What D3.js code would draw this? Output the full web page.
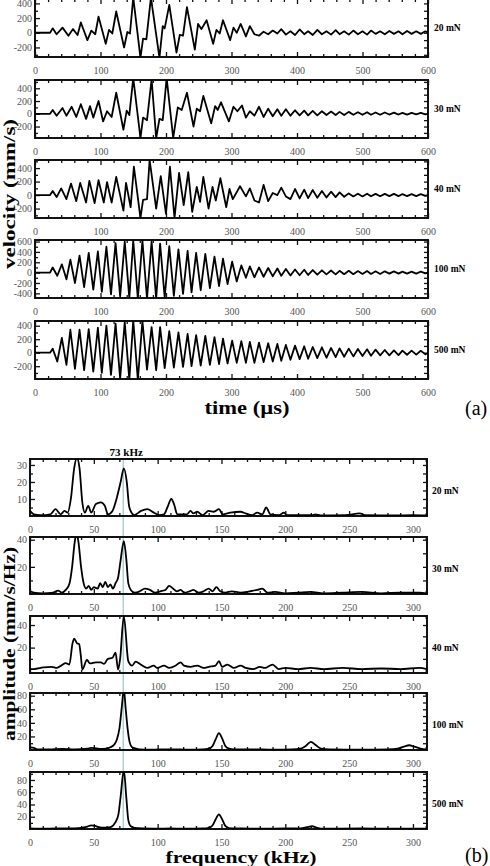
<!DOCTYPE html>
<html>
<head>
<meta charset="utf-8">
<script src="https://cdn.jsdelivr.net/npm/d3@7"></script>
<style>
body { margin: 0; background: #fff; }
svg { display: block; font-family: "Liberation Serif", "Times New Roman", serif; }
</style>
</head>
<body>
<svg id="chart" width="490" height="866"></svg>
<script>
// ---- data ----
var forces = ["20 mN", "30 mN", "40 mN", "100 mN", "500 mN"];

// (a) velocity, time in us
var vel20 = [[0,0],[23,0],[27,60],[33,-20],[42,70],[51,-40],[58,50],[65,-30],[70,140],[80,-100],[86,30],[92,-20],[97,220],[108,-150],[113,40],[118,-10],[124,290],[136,-200],[141,10],[145,-10],[150,480],[161,-340],[165,-80],[170,-90],[177,480],[190,-340],[195,90],[198,60],[205,380],[216,-270],[221,-30],[226,-40],[232,350],[244,-230],[249,120],[254,50],[262,170],[272,-150],[277,40],[282,-10],[287,170],[298,-100],[303,70],[308,0],[314,120]];
var vel30 = [[0,0],[23,0],[27,60],[33,-30],[42,90],[48,-30],[56,110],[63,-50],[70,150],[78,-80],[84,120],[89,-60],[97,200],[104,-120],[110,40],[117,-50],[124,330],[135,-250],[140,50],[144,-20],[150,560],[161,-380],[165,-60],[171,-100],[178,540],[185,-380],[190,-80],[195,-100],[201,560],[211,-380],[218,100],[224,60],[232,330],[242,-200],[247,80],[252,40],[257,280],[269,-150],[275,120],[279,60],[284,180],[296,-120],[303,110],[309,40],[316,130]];
var vel40 = [[0,0],[23,0],[27,60],[33,-30],[40,100],[48,-60],[55,170],[63,-90],[69,180],[78,-110],[83,210],[91,-120],[97,220],[105,-110],[110,190],[117,-110],[124,270],[135,-230],[139,180],[146,-180],[151,420],[161,-340],[165,-70],[171,-60],[175,520],[185,-200],[192,280],[200,-280],[206,420],[213,-340],[220,330],[227,-150],[234,340],[240,-250],[247,120],[252,-100],[257,270],[265,-200],[271,120],[276,-80],[283,250],[292,-180],[297,90],[302,-60],[313,130]];

var burstT = [0,23,27,34,41,48,54,61,68,75,82,89,96,102,109,116,123,130,137,144,150,157,164,171,178,185,191,198,205,212,219,226,233,239,246,253,260,267,274,281,287,294,301,308,315];
var burst100 = [0,0,100,-60,160,-130,250,-200,330,-280,380,-330,410,-370,500,-420,570,-460,600,-490,620,-500,620,-500,600,-500,560,-480,510,-450,450,-410,420,-380,380,-340,360,-300,310,-260,270,-220,210,-170,140];
var burst500 = [0,0,60,-130,220,-180,340,-240,340,-260,350,-280,370,-300,400,-330,430,-380,450,-400,480,-400,470,-250,380,-260,380,-230,320,-220,300,-210,280,-200,260,-190,250,-180,230,-170,210,-160,180,-150,170];

var tailT = [322,328,335,342,349,356,363,370,376,383,390,397,404,411,417,424,431,438,445,452,459,465,472,479,486,493,500,507,513,520,527,534,541,548,555,561,568,575,582,589,596,600];
var tail20 = [-50,90,-20,-40,15,-20,30,-10,50,-25,20,-30,45,-20,20,-30,40,-20,20,-25,35,-20,20,-25,30,-20,20,-25,30,-15,20,-20,25,-15,20,-20,25,-15,20,-15,20,0];
var tail30 = [-60,40,-30,110,-50,80,-40,70,-30,70,-30,55,-25,50,-25,45,-25,40,-20,35,-20,30,-20,30,-15,25,-15,25,-15,20,-15,20,-12,18,-12,15,-12,15,-10,15,-10,0];
var tail40 = [-20,100,-80,-110,150,-90,30,0,110,-20,-60,90,-50,80,-45,75,-40,60,-35,50,-30,40,-25,25,-20,20,-20,20,-18,18,-18,18,-15,18,-15,15,-15,15,-15,15,-12,0];
var tail100 = [-100,120,-90,100,-80,90,-70,80,-60,70,-55,60,-50,55,-45,50,-40,45,-35,40,-35,35,-30,35,-30,30,-25,30,-25,25,-25,25,-20,25,-20,20,-20,20,-18,18,-15,0];
var tail500 = [-150,160,-150,150,-140,140,-130,130,-120,115,-105,105,-95,95,-90,85,-80,80,-75,70,-65,65,-60,60,-55,55,-50,50,-45,45,-40,40,-40,35,-35,30,-30,30,-28,28,-25,0];

// (b) amplitude spectra, frequency in kHz
var spec20 = [[0,3],[3,1],[8,0.5],[16,1],[20,4],[24,1],[27,3],[29.5,2],[32,10],[34.6,28],[36.7,34],[38.8,28],[41,8],[43,2],[45.6,6],[48,2],[51.6,7],[55.5,8],[58.6,6],[61,1],[64.6,3],[67,8],[71,20],[73.5,28],[75.8,20],[77.6,6],[79.5,2],[81.5,0.5],[87,3],[92,4],[97,2],[101,0.5],[105,1],[107.6,5],[110.7,10],[112.8,7],[115.4,1],[123,1],[125.8,3],[128,1.5],[131,2.5],[135,0.5],[140,3],[144,2.5],[148,4],[151,1],[157,2],[165,2.5],[169,1.5],[174,0.5],[178,2],[182,1],[185,5],[188.3,1],[195,0.5],[199,2],[201,0.5],[221,0.5],[223.4,1],[228.6,0.3],[247,0.5],[258.4,1.5],[262.4,0.5],[286,0.3],[299,0.5],[311,0.3]];
var spec30 = [[0,2],[3,1],[10,0.5],[18,1],[22,2.5],[25,1],[28,3],[31,8],[33,20],[35,38],[36.5,45],[38,38],[40,20],[42,8],[44,4],[46,6],[48,3],[50,5],[53,4],[55,8],[57,5],[59,9],[61,5],[63,7],[65,4],[67,8],[69,12],[71,25],[73.5,39],[75.5,25],[77,8],[79,3],[82,1],[86,2],[90,4],[94,3],[98,1],[102,2],[106,3],[109,6],[112,4],[115,2],[118,3],[121,1],[125,2],[128,3],[132,1],[136,2],[140,4],[143,2],[146,5],[149,2],[153,1],[158,2],[165,1],[172,2],[178,3],[182,4],[186,1],[192,1.5],[200,0.5],[210,1],[220,1.5],[230,0.5],[245,1],[260,1.5],[275,0.5],[290,1],[305,1],[311,0.5]];
var spec40 = [[0,1],[3,1],[10.5,2.4],[17,3],[21,2],[25,4.5],[28,6.3],[30.8,5],[33.3,23.6],[34.6,28],[36.7,24],[38.5,23],[39.9,12],[41,0.5],[44.6,9],[47,6],[51.6,7],[55.5,7],[58,5.5],[61,10],[64.6,11],[67,15.5],[69,0.5],[70.6,10],[73.5,48],[77,8],[80,4],[82.8,7.6],[86.7,5],[91.9,2],[97,4],[99.7,2],[105,4],[109,2],[114,4],[118,7],[120.6,4],[125.8,3],[131,4],[136,2],[140,3],[145.3,4],[148,8],[150.5,3],[154.6,5],[159.8,2],[165,4],[169,2],[175,1],[180,3],[184,2],[190,5],[195,1],[200,2],[210,1],[220,2],[230,1],[245,2],[260,1],[275,1.5],[290,1],[305,2],[311,1]];
var spec100 = [[0,4],[3,3],[6,1],[15,1],[25,1.5],[35,1],[45,2],[48,3],[52,2.5],[55,1.5],[60,2],[63,4],[66,8],[68,15],[70,31],[72,65],[73.5,90],[75,60],[76.5,31],[78,12],[80,4],[83,2],[86,1],[95,0.5],[110,1],[125,0.5],[135,1],[140,2],[143,6],[145.5,16],[148,25],[150.5,17],[153,6],[156,2],[160,1],[175,1],[190,0.5],[205,1],[212,2],[216,6],[220,12],[224,7],[228,2],[235,1],[260,0.5],[280,1],[288,2],[293,5],[297,7],[301,5],[306,2],[311,1]];
var spec500 = [[0,1],[10,0.5],[20,1],[30,1],[40,2],[45,4],[48,6],[51,5],[54,3],[58,2],[63,3],[66.6,10],[69.2,23],[71,53],[73.5,96],[75.5,50],[77,15],[79,4.5],[82,2],[90,1],[100,0.5],[110,1],[120,0.5],[135,1],[140,2],[143,6],[145.5,16],[148,24],[150.5,16],[153,5],[156,1.5],[165,1],[180,0.5],[200,1],[212,1],[217,3],[221,4.5],[225,2],[230,0.5],[260,1],[280,0.5],[311,0.5]];

var peakFreq = 73;

// ---- layout ----
var svg = d3.select("#chart");

var velX = d3.scaleLinear().domain([0, 600]).range([35, 428]);
var velTops = [-1, 80, 160, 240, 321], velH = 58;
var velDomains = [[-330, 460], [-380, 530], [-340, 520], [-490, 630], [-390, 470]];
var velLabels = [[-200,0,200,400], [-200,0,200,400], [-200,0,200,400], [-400,-200,0,200,400,600], [-200,0,200,400]];

var specX = d3.scaleLinear().domain([0, 311]).range([30, 427]);
var specTops = [459, 537, 616, 693, 772], specH = 57;
var specDomains = [[0, 33.5], [0, 42], [-2.5, 48], [0, 84], [0, 93]];
var specLabels = [[10,20,30], [20,40], [20,40], [20,40,60,80], [20,40,60,80]];
var specSteps = [5, 10, 10, 10, 10];

var velSeries = [
  vel20.concat(d3.zip(tailT, tail20)),
  vel30.concat(d3.zip(tailT, tail30)),
  vel40.concat(d3.zip(tailT, tail40)),
  d3.zip(burstT, burst100).concat(d3.zip(tailT, tail100)),
  d3.zip(burstT, burst500).concat(d3.zip(tailT, tail500))
];
var specSeries = [spec20, spec30, spec40, spec100, spec500];

function frame(g, x, y, xMajor, xMinor, yMajor, yMinor) {
  var left = x.range()[0], right = x.range()[1];
  var bottom = y.range()[0], top = y.range()[1];
  g.append("g").attr("transform", "translate(0," + bottom + ")")
    .call(d3.axisBottom(x).tickValues(xMinor).tickSize(-3).tickFormat(""));
  g.append("g").attr("transform", "translate(0," + bottom + ")")
    .call(d3.axisBottom(x).tickValues(xMajor).tickSize(-5).tickPadding(10).tickFormat(String));
  g.append("g").attr("transform", "translate(0," + top + ")")
    .call(d3.axisTop(x).tickValues(xMinor).tickSize(-3).tickFormat(""));
  g.append("g").attr("transform", "translate(0," + top + ")")
    .call(d3.axisTop(x).tickValues(xMajor).tickSize(-5).tickFormat(""));
  g.append("g").attr("transform", "translate(" + left + ",0)")
    .call(d3.axisLeft(y).tickValues(yMinor).tickSize(-3).tickFormat(""));
  g.append("g").attr("transform", "translate(" + left + ",0)")
    .call(d3.axisLeft(y).tickValues(yMajor).tickSize(-5).tickPadding(3).tickFormat(String));
  g.append("g").attr("transform", "translate(" + right + ",0)")
    .call(d3.axisRight(y).tickValues(yMinor.concat(yMajor)).tickSize(-4).tickFormat(""));
  g.selectAll(".domain").remove();
  g.selectAll(".tick line").attr("stroke", "#111").attr("stroke-width", 1.3);
  g.selectAll(".tick text").attr("fill", "#555")
    .style("font-size", "10px").style("font-family", "'Liberation Serif', serif");
  g.append("rect")
    .attr("x", left).attr("y", top)
    .attr("width", right - left).attr("height", bottom - top)
    .attr("fill", "none").attr("stroke", "#111").attr("stroke-width", 2);
}

// minor tick values between the labelled ones
function stepTicks(domain, step, skip) {
  var lo = Math.ceil(domain[0] / step) * step;
  return d3.range(lo, domain[1] + 0.001, step)
    .filter(function(d) { return skip.indexOf(d) < 0; });
}

// ---- (a) velocity ----
var velXMajor = d3.range(0, 601, 100);
var velXMinor = d3.range(0, 601, 20).filter(function(d) { return d % 100 !== 0; });

velSeries.forEach(function(data, i) {
  var top = velTops[i];
  var y = d3.scaleLinear().domain(velDomains[i]).range([top + velH, top]);
  var g = svg.append("g");
  var minor = stepTicks(velDomains[i], 100, velLabels[i]);
  frame(g, velX, y, velXMajor, velXMinor, velLabels[i], minor);

  svg.append("clipPath").attr("id", "cv" + i)
    .append("rect").attr("x", velX.range()[0]).attr("y", top)
    .attr("width", velX.range()[1] - velX.range()[0]).attr("height", velH);

  var line = d3.line()
    .x(function(d) { return velX(d[0]); })
    .y(function(d) { return y(d[1]); });
  g.append("path").datum(data)
    .attr("clip-path", "url(#cv" + i + ")")
    .attr("d", line)
    .attr("fill", "none").attr("stroke", "#000")
    .attr("stroke-width", 1.8).attr("stroke-linejoin", "round");

  g.append("text")
    .attr("x", velX.range()[1] + 6).attr("y", top + velH / 2 + 3)
    .attr("font-size", 9.5).attr("font-weight", "bold")
    .text(forces[i]);
});

svg.append("text")
  .attr("transform", "translate(15,194) rotate(-90)")
  .attr("text-anchor", "middle").attr("font-weight", "bold").attr("font-size", 17)
  .attr("textLength", 150).attr("lengthAdjust", "spacingAndGlyphs")
  .text("velocity (mm/s)");
svg.append("text")
  .attr("x", 247).attr("y", 414)
  .attr("text-anchor", "middle").attr("font-weight", "bold").attr("font-size", 18)
  .attr("textLength", 85).attr("lengthAdjust", "spacingAndGlyphs")
  .text("time (\u00b5s)");
svg.append("text")
  .attr("x", 465).attr("y", 415).attr("font-size", 20)
  .text("(a)");

// ---- (b) spectra ----
var specXMajor = d3.range(0, 301, 50);
var specXMinor = d3.range(0, 311, 10).filter(function(d) { return d % 50 !== 0; });

// 73 kHz marker line
svg.append("line")
  .attr("x1", specX(peakFreq)).attr("x2", specX(peakFreq))
  .attr("y1", specTops[0]).attr("y2", specTops[4] + specH)
  .attr("stroke", "#86b6be").attr("stroke-width", 1);

specSeries.forEach(function(data, i) {
  var top = specTops[i];
  var y = d3.scaleLinear().domain(specDomains[i]).range([top + specH, top]);
  var g = svg.append("g");
  var minor = stepTicks([Math.max(0, specDomains[i][0]), specDomains[i][1]], specSteps[i], specLabels[i].concat([0]));
  frame(g, specX, y, specXMajor, specXMinor, specLabels[i], minor);

  svg.append("clipPath").attr("id", "cs" + i)
    .append("rect").attr("x", specX.range()[0]).attr("y", top)
    .attr("width", specX.range()[1] - specX.range()[0]).attr("height", specH);

  var line = d3.line()
    .curve(d3.curveMonotoneX)
    .x(function(d) { return specX(d[0]); })
    .y(function(d) { return y(d[1]); });
  g.append("path").datum(data)
    .attr("clip-path", "url(#cs" + i + ")")
    .attr("d", line)
    .attr("fill", "none").attr("stroke", "#000")
    .attr("stroke-width", 1.8).attr("stroke-linejoin", "round");

  g.append("text")
    .attr("x", specX.range()[1] + 5).attr("y", top + specH / 2 + 6.5)
    .attr("font-size", 9.5).attr("font-weight", "bold")
    .text(forces[i]);
});

svg.append("text")
  .attr("x", specX(peakFreq) + 3).attr("y", 456)
  .attr("text-anchor", "middle").attr("font-weight", "bold").attr("font-size", 11)
  .text(peakFreq + " kHz");

svg.append("text")
  .attr("transform", "translate(15,644) rotate(-90)")
  .attr("text-anchor", "middle").attr("font-weight", "bold").attr("font-size", 17)
  .attr("textLength", 194).attr("lengthAdjust", "spacingAndGlyphs")
  .text("amplitude (mm/s/Hz)");
svg.append("text")
  .attr("x", 241).attr("y", 863)
  .attr("text-anchor", "middle").attr("font-weight", "bold").attr("font-size", 16)
  .attr("textLength", 151).attr("lengthAdjust", "spacingAndGlyphs")
  .text("frequency (kHz)");
svg.append("text")
  .attr("x", 465).attr("y", 862).attr("font-size", 20)
  .text("(b)");
</script>
</body>
</html>
